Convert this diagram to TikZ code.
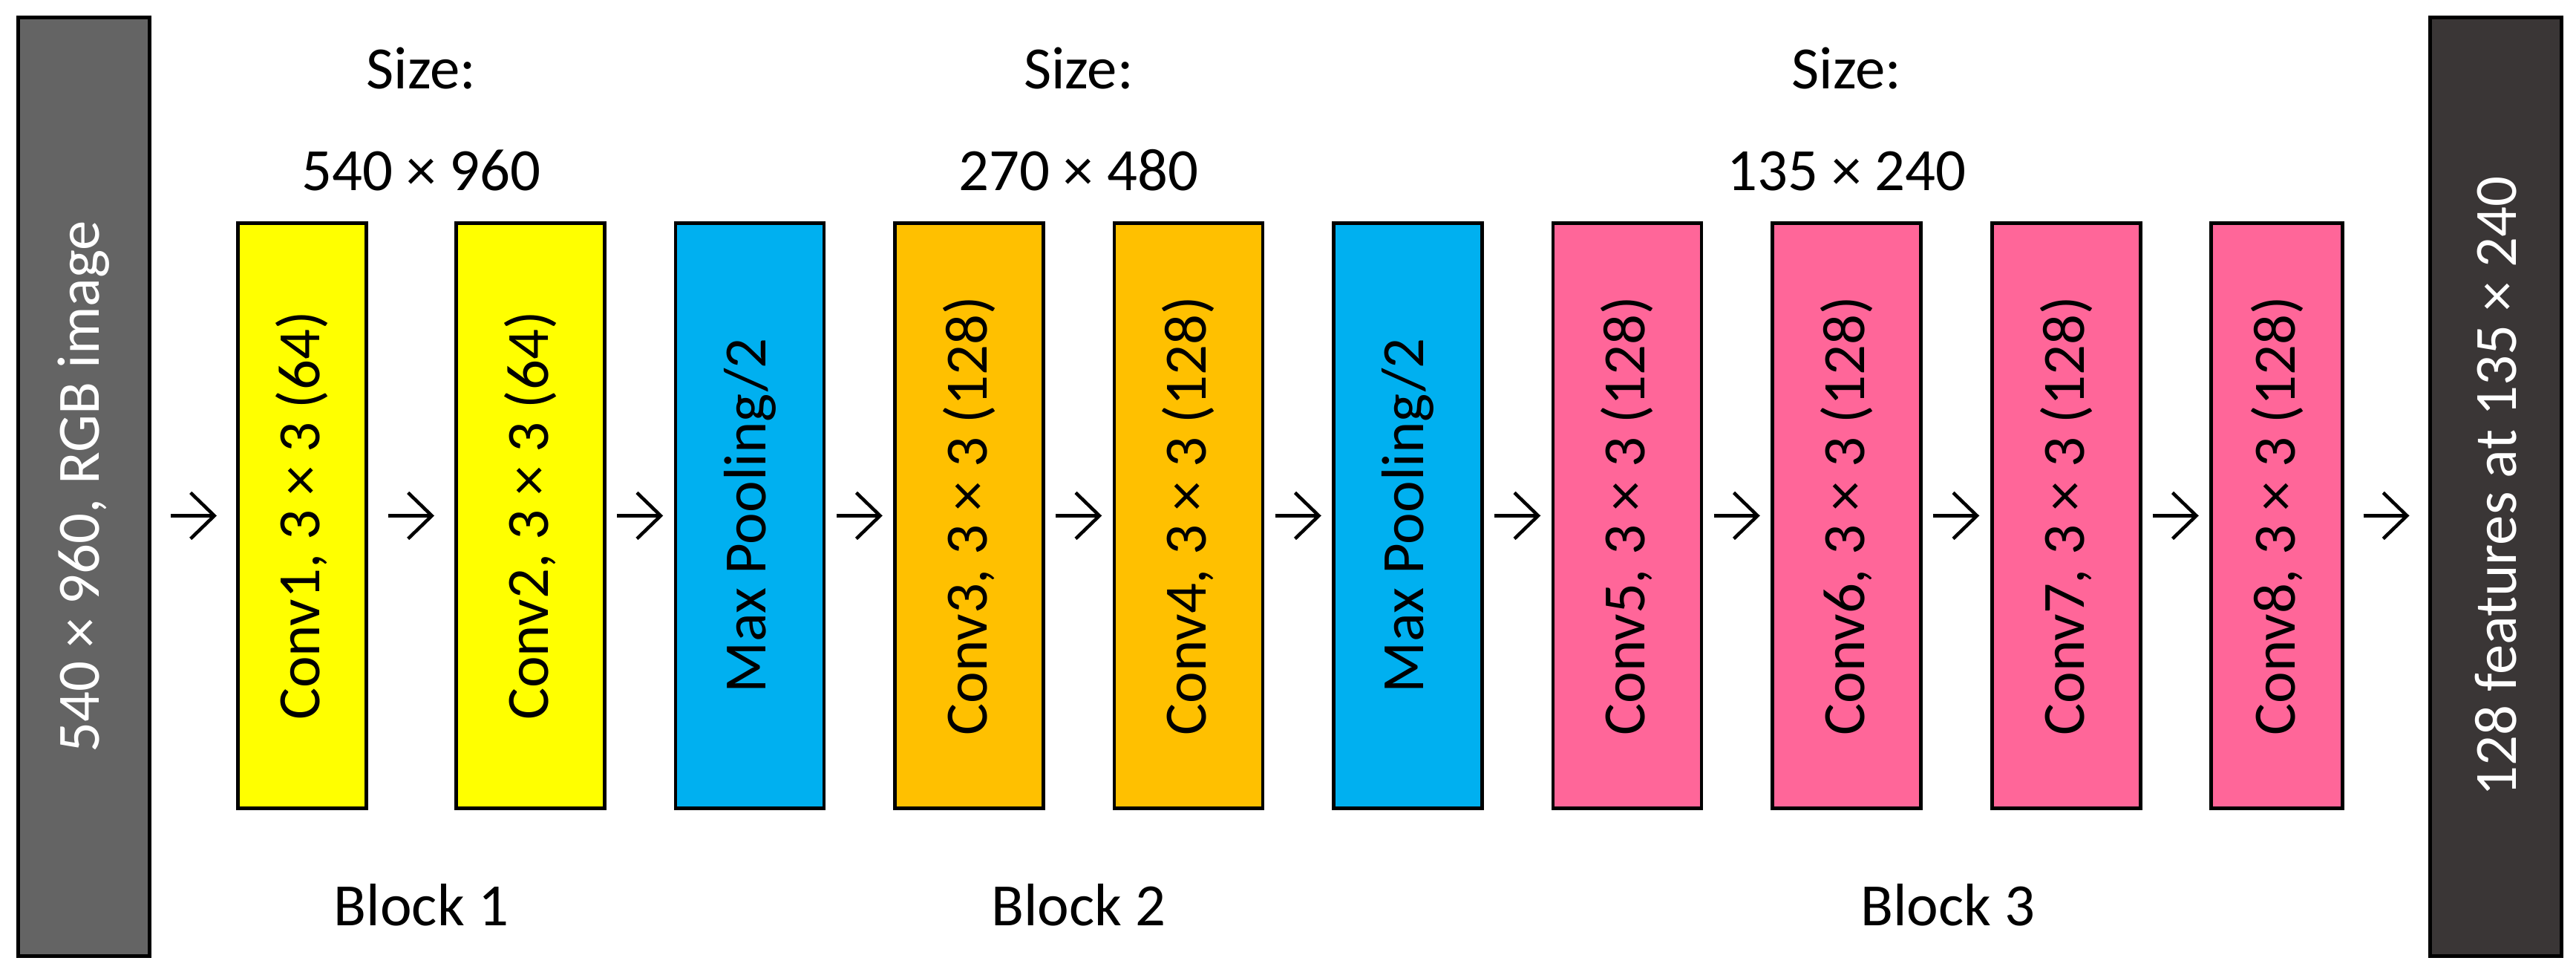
\documentclass[tikz,border=0pt]{standalone}
\usepackage{fontspec}
\setmainfont{Carlito}
\usepackage{graphicx}
\usepackage{xcolor}
\usepackage{tikz}
\usetikzlibrary{arrows.meta,positioning}
\definecolor{inputGray}{RGB}{100,100,100}
\definecolor{outputGray}{RGB}{58,54,54}
\definecolor{convYellow}{RGB}{255,255,0}
\definecolor{poolBlue}{RGB}{0,176,240}
\definecolor{convOrange}{RGB}{255,192,0}
\definecolor{convPink}{RGB}{255,102,153}
\newcommand{\upText}[1]{\rotatebox{90}{#1}}
\tikzset{
    netBox/.style={
        draw,
        line width=1.4pt,
        minimum width=2cm,
        minimum height=7.88cm,
        inner sep=0pt,
        outer sep=0pt
    },
    netEnd/.style={
        draw,
        line width=1.4pt,
        minimum width=1.77cm,
        minimum height=12.64cm,
        inner sep=0pt,
        outer sep=0pt,
        text=white
    },
    netArrow/.style={
        -{Straight Barb[length=3.2mm,width=6.2mm]},
        line width=1.3pt,
        shorten <=#1,
        shorten >=#1
    },
    netArrow/.default=1.675mm,
    netLabel/.style={
        anchor=base
    }
}
\begin{document}
\begin{tikzpicture}[node distance=9.55mm, font=\fontsize{23}{27}\selectfont]
        \useasboundingbox (0,0) rectangle (34.70,13.17);

        \node[netEnd,fill=inputGray] (input) at (1.13,6.615) {\upText{540 × 960, RGB image}};

        \node[netBox,fill=convYellow,minimum width=1.73cm] (conv1) at (4.07,6.225) {\upText{Conv1, 3 × 3 (64)}};
        \node[netBox,fill=convYellow,right=12.1mm of conv1] (conv2) {\upText{Conv2, 3 × 3 (64)}};
        \node[netBox,fill=poolBlue,right=of conv2] (pool1) {\upText{Max Pooling/2}};
        \node[netBox,fill=convOrange,right=of pool1] (conv3) {\upText{Conv3, 3 × 3 (128)}};
        \node[netBox,fill=convOrange,right=of conv3] (conv4) {\upText{Conv4, 3 × 3 (128)}};
        \node[netBox,fill=poolBlue,right=of conv4] (pool2) {\upText{Max Pooling/2}};
        \node[netBox,fill=convPink,right=of pool2] (conv5) {\upText{Conv5, 3 × 3 (128)}};
        \node[netBox,fill=convPink,right=of conv5] (conv6) {\upText{Conv6, 3 × 3 (128)}};
        \node[netBox,fill=convPink,right=of conv6] (conv7) {\upText{Conv7, 3 × 3 (128)}};
        \node[netBox,fill=convPink,minimum width=1.77cm,right=of conv7] (conv8) {\upText{Conv8, 3 × 3 (128)}};

        \node[netEnd,fill=outputGray] (output) at (33.62,6.615) {\upText{128 features at 135 × 240}};

        % size of the feature maps above each block
        \node[netLabel] (size1) at (5.675,11.97) {Size:};
        \node[netLabel] (dims1) at (5.675,10.60) {540 × 960};
        \node[netLabel] (size2) at (14.53,11.97) {Size:};
        \node[netLabel] (dims2) at (14.53,10.60) {270 × 480};
        \node[netLabel] (size3) at (24.875,11.97) {Size:};
        \node[netLabel] (dims3) at (24.875,10.60) {135 × 240};

        \node[netLabel] (block1) at (5.675,0.70) {Block 1};
        \node[netLabel] (block2) at (14.53,0.70) {Block 2};
        \node[netLabel] (block3) at (26.24,0.70) {Block 3};

        \draw[netArrow=2.85mm] (input.east |- conv1) -- (conv1);
        \draw[netArrow=2.95mm] (conv1) -- (conv2);
        \draw[netArrow] (conv2) -- (pool1);
        \draw[netArrow] (pool1) -- (conv3);
        \draw[netArrow] (conv3) -- (conv4);
        \draw[netArrow] (conv4) -- (pool2);
        \draw[netArrow] (pool2) -- (conv5);
        \draw[netArrow] (conv5) -- (conv6);
        \draw[netArrow] (conv6) -- (conv7);
        \draw[netArrow] (conv7) -- (conv8);
        \draw[netArrow=2.8mm] (conv8) -- (output.west |- conv8);
    \end{tikzpicture}
\end{document}
